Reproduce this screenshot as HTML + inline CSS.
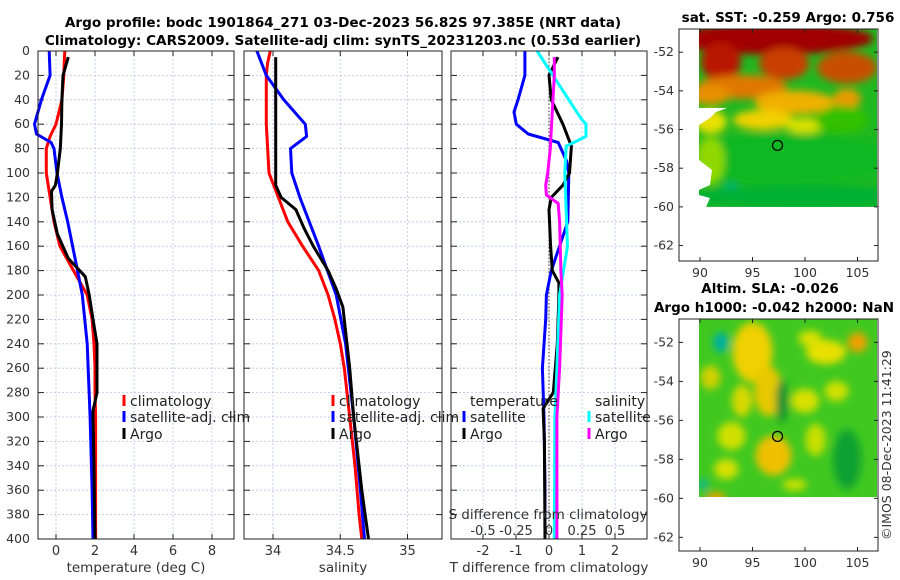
<!DOCTYPE html>
<html><head><meta charset="utf-8"><style>
body{margin:0;background:#fff;}
svg{display:block;font-family:"DejaVu Sans","Liberation Sans",sans-serif;}
</style></head><body>
<svg id="fig" width="900" height="580" viewBox="0 0 900 580">
<defs>
<filter id="blur" x="-20%" y="-20%" width="140%" height="140%"><feGaussianBlur stdDeviation="4"/></filter>
<clipPath id="clipm1"><rect x="699" y="29" width="178" height="178"/></clipPath>
<clipPath id="clipm2"><rect x="699" y="319" width="178" height="178"/></clipPath>
</defs>
<text x="343" y="27" text-anchor="middle" font-size="13.6" font-weight="bold">Argo profile: bodc 1901864_271 03-Dec-2023 56.82S 97.385E (NRT data)</text>
<text x="343" y="45" text-anchor="middle" font-size="13.6" font-weight="bold">Climatology: CARS2009. Satellite-adj clim: synTS_20231203.nc (0.53d earlier)</text>
<g id="plots"></g>
<g id="maps"></g>
<text transform="translate(891,540) rotate(-90)" font-size="12.5" fill="#333">©IMOS 08-Dec-2023 11:41:29</text>
</svg>
<script>
// ---------------- data ----------------
const depthTicks=[0,20,40,60,80,100,120,140,160,180,200,220,240,260,280,300,320,340,360,380,400];
// Panel 1: temperature
const climTd=[0,10,20,40,60,70,80,100,120,140,160,180,200,220,240,260,280,300,340,380,400];
const climT=[0.45,0.42,0.4,0.3,0.0,-0.3,-0.5,-0.5,-0.3,-0.1,0.2,0.9,1.6,1.85,1.95,2.0,2.0,2.03,2.03,2.03,2.03];
const satTd=[0,20,40,60,68,75,80,100,120,140,160,180,200,240,300,360,400];
const satT=[-0.35,-0.3,-0.75,-1.1,-1.0,-0.25,-0.1,0.05,0.3,0.6,0.85,1.1,1.35,1.6,1.75,1.85,1.9];
const argoTd=[5,20,40,60,80,100,110,115,130,150,170,185,200,220,240,280,295,300,340,400];
const argoT=[0.63,0.36,0.3,0.28,0.22,0.07,-0.03,-0.23,-0.2,0.07,0.63,1.5,1.7,1.9,2.1,2.1,1.9,1.9,1.95,2.0];
// Panel 2: salinity
const climSd=[0,10,20,60,100,120,140,160,180,200,220,240,260,280,300,340,380,400];
const climS=[33.98,33.96,33.95,33.95,33.97,34.04,34.11,34.22,34.34,34.41,34.46,34.5,34.53,34.55,34.57,34.61,34.64,34.66];
const satSd=[0,20,40,55,60,70,80,100,120,160,200,240,300,360,400];
const satS=[33.88,33.95,34.08,34.2,34.24,34.25,34.13,34.14,34.2,34.34,34.47,34.54,34.6,34.65,34.68];
const argoSd=[5,110,120,130,145,160,180,195,210,260,300,360,400];
const argoS=[34.02,34.02,34.06,34.17,34.23,34.3,34.41,34.47,34.52,34.57,34.6,34.66,34.71];
// Panel 3: differences from climatology
const dTsatD=[0,20,40,50,60,68,75,90,100,140,180,200,220,260,300,360,400];
const dTsat=[-0.73,-0.73,-0.94,-1.06,-0.99,-0.63,0.28,0.53,0.6,0.57,0.07,-0.08,-0.1,-0.2,-0.15,-0.12,-0.12];
const dTargoD=[5,20,40,60,78,100,110,120,130,160,180,190,200,240,280,293,320,400];
const dTargo=[0.27,0,0.07,0.42,0.68,0.62,0.42,0.07,0,0.05,0.1,0.3,0.3,0.25,0.13,-0.18,-0.14,-0.12];
const dSsatD=[0,20,40,55,60,70,78,100,160,200,260,300,400];
const dSsat=[-0.09,0.03,0.15,0.24,0.28,0.28,0.13,0.12,0.14,0.08,0.06,0.045,0.04];
const dSargoD=[5,20,60,80,100,110,118,125,140,180,200,260,300,400];
const dSargo=[0.04,0.04,0.02,0.01,-0.01,-0.025,-0.02,0.07,0.08,0.09,0.1,0.08,0.06,0.06];
const tTicks1=[0,2,4,6,8];
const sTicks2=[34,34.5,35];
const tTicks3=[-2,-1,0,1,2];
const sTicks3=[-0.5,-0.25,0,0.25,0.5];
const sTickLabels3=['-0.5','-0.25','0','0.25','0.5'];
// ---------------- helpers ----------------
const NS='http://www.w3.org/2000/svg';
const plots=document.getElementById('plots');
function mk(tag,attrs,parent){const e=document.createElementNS(NS,tag);for(const k in attrs)e.setAttribute(k,attrs[k]);(parent||plots).appendChild(e);return e;}
const Y0=51,Y1=539;
const yS=d=>Y0+(Y1-Y0)*d/400;
const panels=[
 {x0:38,x1:234,f:v=>56+19.5*v,ticks:tTicks1,labels:tTicks1.map(String),xlabel:'temperature (deg C)',name:'temperature-panel'},
 {x0:244,x1:442,f:v=>273+134.5*(v-34),ticks:sTicks2,labels:['34','34.5','35'],xlabel:'salinity',name:'salinity-panel'},
 {x0:451,x1:647,f:v=>549+33*v,ticks:tTicks3,labels:tTicks3.map(String),xlabel:'T difference from climatology',name:'difference-panel'}
];
panels.forEach((p,i)=>{
 const g=mk('g',{});
 
 
 depthTicks.forEach(d=>{
  const l=mk('line',{x1:p.x0,x2:p.x1,y1:yS(d),y2:yS(d),stroke:'#b8c4e8','stroke-width':0.8,'stroke-dasharray':'2,2'},g);
  
  
 });
 p.ticks.forEach((v,j)=>{
  const x=p.f(v);
  const l=mk('line',{x1:x,x2:x,y1:Y0,y2:Y1,stroke:'#b8c4e8','stroke-width':0.8,'stroke-dasharray':'2,2'},g);
  
  
  mk('line',{x1:x,x2:x,y1:Y1,y2:Y1-5,stroke:'#222'},g);
  mk('line',{x1:x,x2:x,y1:Y0,y2:Y0+5,stroke:'#222'},g);
  const t=mk('text',{x:x,y:555,'text-anchor':'middle','font-size':13,fill:'#333'},g);
  t.textContent=p.labels[j];
  
  
 });
 depthTicks.forEach(d=>{
  mk('line',{x1:p.x0,x2:p.x0+6,y1:yS(d),y2:yS(d),stroke:'#222'},g);
  mk('line',{x1:p.x1,x2:p.x1-6,y1:yS(d),y2:yS(d),stroke:'#222'},g);
 });
 const xl=mk('text',{x:(p.x0+p.x1)/2,y:572,'text-anchor':'middle','font-size':13.5,fill:'#333'},g);
 xl.textContent=p.xlabel;
 
 
});
depthTicks.forEach(d=>{
 const t=mk('text',{x:30,y:yS(d)+4,'text-anchor':'end','font-size':12.5,fill:'#333'});
 t.textContent=String(d);
 
 
});
const zl=mk('line',{x1:549,x2:549,y1:Y0,y2:Y1,stroke:'#654',"stroke-width":1.2,'stroke-dasharray':'1.5,2'});


function series(ds,vs,f,color,name){
 const pts=ds.map((d,i)=>f(vs[i]).toFixed(1)+','+yS(d).toFixed(1)).join(' ');
 const pl=mk('polyline',{points:pts,fill:'none',stroke:color,'stroke-width':3,'stroke-linejoin':'round'});
 
 
}
const P=panels;
series(climTd,climT,P[0].f,'#f00','clim-temperature-line');
series(satTd,satT,P[0].f,'#00f','sat-temperature-line');
series(argoTd,argoT,P[0].f,'#000','argo-temperature-line');
series(climSd,climS,P[1].f,'#f00','clim-salinity-line');
series(satSd,satS,P[1].f,'#00f','sat-salinity-line');
series(argoSd,argoS,P[1].f,'#000','argo-salinity-line');
const fS=v=>549+132*v;
series(dTsatD,dTsat,P[2].f,'#00f','sat-temp-diff-line');
series(dTargoD,dTargo,P[2].f,'#000','argo-temp-diff-line');
series(dSsatD,dSsat,fS,'#0ff','sat-sal-diff-line');
series(dSargoD,dSargo,fS,'#f0f','argo-sal-diff-line');
const st=mk('text',{x:548,y:519,'text-anchor':'middle','font-size':13.5,fill:'#333'});
st.textContent='S difference from climatology';


sTicks3.forEach((v,j)=>{
 const t=mk('text',{x:fS(v),y:535,'text-anchor':'middle','font-size':13,fill:'#333'});
 t.textContent=sTickLabels3[j];
 
 
});
panels.forEach(p=>{
 const r=mk('rect',{x:p.x0,y:Y0,width:p.x1-p.x0,height:Y1-Y0,fill:'none',stroke:'#222','stroke-width':1});
 
 
});
function legend(x,y,color,label){
 const g=mk('g',{});
 
 
 mk('line',{x1:x,x2:x,y1:y-11,y2:y,stroke:color,'stroke-width':3},g);
 const t=mk('text',{x:x+6,y:y,'font-size':14,fill:'#222'},g);
 t.textContent=label;
}
legend(124,406,'#f00','climatology');legend(124,422,'#00f','satellite-adj. clim');legend(124,439,'#000','Argo');
legend(333,406,'#f00','climatology');legend(333,422,'#00f','satellite-adj. clim');legend(333,439,'#000','Argo');
const lt1=mk('text',{x:470,y:406,'font-size':14,fill:'#222'});lt1.textContent='temperature';

const lt2=mk('text',{x:595,y:406,'font-size':14,fill:'#222'});lt2.textContent='salinity';

legend(464,422,'#00f','satellite');legend(464,439,'#000','Argo');
legend(589,422,'#0ff','satellite');legend(589,439,'#f0f','Argo');

// ---------------- maps ----------------
const maps=document.getElementById('maps');
const lonTicks=[90,95,100,105];
const latTicks=[-52,-54,-56,-58,-60,-62];
function mm(tag,attrs,parent){const e=document.createElementNS(NS,tag);for(const k in attrs)e.setAttribute(k,attrs[k]);(parent||maps).appendChild(e);return e;}
function mapAxes(top,bottom,latTop,latBottom,name,clip,blobs,base,extra){
 const g=mm('g',{});
 
 
 const lx=v=>700+(v-90)*10.5;
 const ly=v=>top+(latTop-v)*(bottom-top)/(latTop-latBottom);
 const cg=mm('g',{'clip-path':'url(#'+clip+')'},g);
 mm('rect',{x:699,y:ly(-50.8),width:178,height:ly(-60)-ly(-50.8),fill:base},cg);
 const bg=mm('g',{filter:'url(#blur)'},cg);
 blobs.forEach(b=>mm('ellipse',{cx:lx(b[0]),cy:ly(b[1]),rx:b[2],ry:b[3],fill:b[4]},bg));
 if(extra)extra(cg);
 mm('rect',{x:679,y:top,width:199,height:bottom-top,fill:'none',stroke:'#222'},g);
 lonTicks.forEach(v=>{
  mm('line',{x1:lx(v),x2:lx(v),y1:bottom,y2:bottom-4,stroke:'#222'},g);
  mm('line',{x1:lx(v),x2:lx(v),y1:top,y2:top+4,stroke:'#222'},g);
  const t=mm('text',{x:lx(v),y:bottom+16,'text-anchor':'middle','font-size':12.5,fill:'#333'},g);
  t.textContent=String(v);
  
  
 });
 latTicks.forEach(v=>{
  mm('line',{x1:679,x2:683,y1:ly(v),y2:ly(v),stroke:'#222'},g);
  mm('line',{x1:878,x2:874,y1:ly(v),y2:ly(v),stroke:'#222'},g);
  const t=mm('text',{x:674,y:ly(v)+4,'text-anchor':'end','font-size':12.5,fill:'#333'},g);
  t.textContent=String(v);
  
  
 });
 const c=mm('circle',{cx:lx(97.385),cy:ly(-56.82),r:5,fill:'none',stroke:'#000','stroke-width':1.2},g);
 
 
}
const sstBlobs=[
 [97,-51.3,100,16,'#a00000'],[92,-52.5,20,20,'#b81800'],[98,-52.6,25,16,'#c84000'],[104,-52.8,30,16,'#c85000'],
 [94,-53.8,45,12,'#e07800'],[91,-54.2,20,10,'#e89000'],[99,-54.6,40,12,'#f0b000'],[104,-54.4,14,10,'#e89a00'],
 [91,-55.6,16,12,'#e8e000'],[96,-55.5,30,10,'#f0d000'],[100,-55.8,20,8,'#d8e000'],[103.5,-55.5,26,14,'#30c000'],
 [98,-57.5,120,25,'#10b820'],[91,-57.6,14,24,'#90d800'],[93,-59.2,10,8,'#00b090'],
 [100,-59.5,120,12,'#00b030']];
mapAxes(29,261,-50.8,-62.8,'sst-map','clipm1',sstBlobs,'#20b820',cg=>{
 mm('polygon',{points:'699,108 699,125 710,118 716,112 727,108',fill:'#fff'},cg);
 mm('polygon',{points:'699,160 699,190 710,185 712,170',fill:'#fff'},cg);
 mm('polygon',{points:'699,195 699,207 706,207 710,198',fill:'#fff'},cg);
});
const slaBlobs=[
 [95,-52.5,20,30,'#f0d000'],[96.5,-54.5,14,25,'#e8c800'],[91,-53.8,10,12,'#d0d000'],
 [102,-52.5,20,12,'#e8e000'],[105,-52,10,10,'#f0a000'],[100,-55,14,12,'#d8e000'],
 [97,-57.8,18,20,'#f0c000'],[93,-56.8,14,14,'#d0e000'],[101,-57,10,16,'#c8e000'],
 [92.5,-58.5,12,10,'#d8e000'],[103,-54.5,12,10,'#d0e000'],[99,-59.3,12,6,'#c8e000'],
 [94,-55,10,16,'#d8d800'],[100.5,-51.8,12,8,'#d8e000'],
 [91.5,-60,10,6,'#f0a000'],[92,-52,8,10,'#00b0a0'],[97.8,-55,6,22,'#109030'],
 [104,-58,14,30,'#10a030'],[90.3,-59.3,4,6,'#00b0b0']];
mapAxes(319,551,-50.8,-62.7,'sla-map','clipm2',slaBlobs,'#40c820');
const mt=[['sat. SST: -0.259 Argo: 0.756',788,22,'sst-map-title'],['Altim. SLA: -0.026',770,293,'sla-map-title'],['Argo h1000: -0.042 h2000: NaN',774,312,'sla-map-subtitle']];
mt.forEach(m=>{
 const t=mm('text',{x:m[1],y:m[2],'text-anchor':'middle','font-size':13.5,'font-weight':'bold'});
 t.textContent=m[0];
 
 
});
</script>
</body></html>
